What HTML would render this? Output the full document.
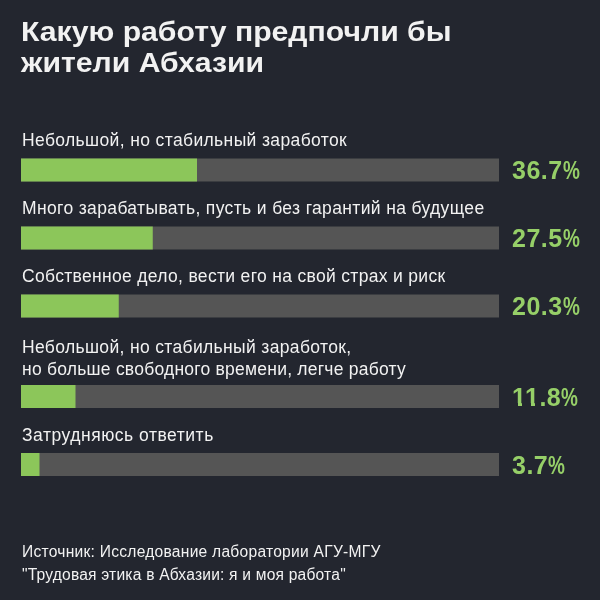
<!DOCTYPE html>
<html><head><meta charset="utf-8">
<style>
html,body{margin:0;padding:0;}
body{width:600px;height:600px;overflow:hidden;background:#23262f;position:relative;font-family:"Liberation Sans",sans-serif;color:#f2f2f2;}
.t{position:absolute;white-space:nowrap;line-height:1;will-change:transform;}
.title{font-weight:bold;font-size:27px;left:21.4px;transform:scaleX(1.118);transform-origin:0 0;}
.lab{font-size:17.5px;left:22px;letter-spacing:0.4px;}
.pct{position:absolute;left:512px;font-weight:bold;font-size:25px;color:#96cf68;line-height:1;white-space:nowrap;letter-spacing:0.5px;margin-top:-0.5px;will-change:transform;}
.pc{display:inline-block;transform:scaleX(0.76);transform-origin:0 0;letter-spacing:0;}
.src{font-size:15.6px;left:21.5px;letter-spacing:0.25px;}
</style></head>
<body>
<svg width="600" height="600" style="position:absolute;left:0;top:0" shape-rendering="geometricPrecision"><rect x="21" y="158.5" width="478" height="23" fill="#555555"/><rect x="21" y="158.5" width="176" height="23" fill="#8cc65a"/><rect x="21" y="226.5" width="478" height="23" fill="#555555"/><rect x="21" y="226.5" width="131.75" height="23" fill="#8cc65a"/><rect x="21" y="294.5" width="478" height="23" fill="#555555"/><rect x="21" y="294.5" width="97.75" height="23" fill="#8cc65a"/><rect x="21" y="385" width="478" height="23" fill="#555555"/><rect x="21" y="385" width="54.5" height="23" fill="#8cc65a"/><rect x="21" y="453" width="478" height="23" fill="#555555"/><rect x="21" y="453" width="18.5" height="23" fill="#8cc65a"/></svg>
<div class="t title" id="t1" style="top:19px">Какую работу предпочли бы</div>
<div class="t title" id="t2" style="top:50px">жители Абхазии</div>

<div class="t lab" id="l1" style="top:131.75px;letter-spacing:0.37px">Небольшой, но стабильный заработок</div>
<div class="pct" style="top:158px">36.7<span class="pc">%</span></div>

<div class="t lab" id="l2" style="top:199.75px;letter-spacing:0.36px">Много зарабатывать, пусть и без гарантий на будущее</div>
<div class="pct" style="top:226px">27.5<span class="pc">%</span></div>

<div class="t lab" id="l3" style="top:267.9px;letter-spacing:0.32px">Собственное дело, вести его на свой страх и риск</div>
<div class="pct" style="top:294px">20.3<span class="pc">%</span></div>

<div class="t lab" id="l4a" style="top:339.25px;letter-spacing:0.345px">Небольшой, но стабильный заработок,</div>
<div class="t lab" id="l4b" style="top:361px;letter-spacing:0.23px">но больше свободного времени, легче работу</div>
<div class="pct" style="top:385px">11.8<span class="pc">%</span></div>
<div style="position:absolute;z-index:5;background:#23262f;top:403px;height:3px;left:512px;width:6px"></div><div style="position:absolute;z-index:5;background:#23262f;top:403px;height:3px;left:522px;width:4px"></div><div style="position:absolute;z-index:5;background:#23262f;top:403px;height:3px;left:526px;width:5px"></div><div style="position:absolute;z-index:5;background:#23262f;top:403px;height:3px;left:535px;width:4px"></div>

<div class="t lab" id="l5" style="top:426.5px;letter-spacing:0.52px">Затрудняюсь ответить</div>
<div class="pct" style="top:453px">3.7<span class="pc">%</span></div>

<div class="t src" id="s1" style="top:544px">Источник: Исследование лаборатории АГУ-МГУ</div>
<div class="t src" id="s2" style="top:567px;letter-spacing:0.2px">"Трудовая этика в Абхазии: я и моя работа"</div>
</body></html>
